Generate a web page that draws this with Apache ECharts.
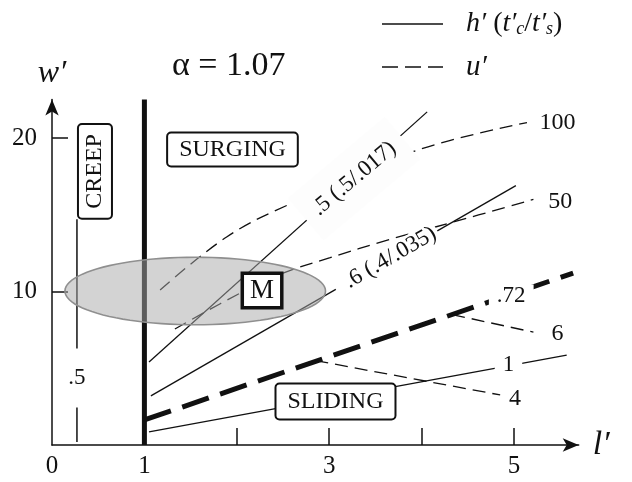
<!DOCTYPE html>
<html>
<head>
<meta charset="utf-8">
<script src="https://cdn.jsdelivr.net/npm/echarts@6/dist/echarts.min.js"></script>
<style>
  html, body { margin: 0; padding: 0; background: #ffffff; }
  #chart { width: 632px; height: 482px; }
</style>
</head>
<body>
<div id="chart"></div>
<script>
// Regime diagram in the (l′, w′) plane: lines of constant h′ (solid) and u′ (dashed)

// axis ticks and labels
const xTickValues = [1, 2, 3, 4, 5];
const xLabelValues = [0, 1, 3, 5];
const yTickValues = [10, 20];
const yLabelValues = [10, 20];

// lines of constant h′
const hLine05 = [[1.05, 5.4], [4.06, 21.7]];
const hLine06 = [[1.07, 3.2], [5.02, 16.9]];
const hLine1 = [[1.05, 0.85], [5.57, 5.86]];
// sliding boundary, h′ = .72
const boundary072 = [[1.0, 1.63], [5.64, 11.2]];
// lines of constant u′
const uLine100 = [[1.17, 10.1], [1.89, 13.55], [2.54, 15.6], [3.9, 19.1], [5.14, 21.0]];
const uLine50 = [[1.33, 7.56], [2.06, 9.97], [2.5, 11.2], [3.01, 12.2], [3.63, 13.35], [4.33, 14.5], [5.21, 16.0]];
const uLine6 = [[4.33, 8.5], [5.21, 7.35]];
const uLine4 = [[2.85, 5.5], [4.85, 3.26]];
// creep limit (h′ = .5) and the surge wall at l′ = 1
const creepLine = [[0.27, 0.2], [0.27, 14.7]];
const surgeWall = [[1, 0], [1, 22.5]];

// measured region M: centre and semi-axes in data units
const regionMCenter = [1.55, 10.03];
const regionMRadii = [1.41, 2.2];

// line labels: text and anchor (data units)
const lineLabelText = ['.5 (.5/.017)', '.6 (.4/.035)', '.72', '1', '100', '50', '6', '4', '.5'];
const lineLabelAt = [[3.27, 17.35], [3.62, 12.05], [4.97, 9.7], [4.94, 5.2], [5.47, 20.98], [5.5, 15.83], [5.47, 7.23], [5.01, 3.0], [0.27, 4.36]];

// regime names: text and anchor (data units)
const regimeText = ['SURGING', 'CREEP', 'M', 'SLIDING'];
const regimeAt = [[1.953, 19.25], [0.465, 17.82], [2.273, 10.07], [3.068, 2.83]];

const SERIF = "'Liberation Serif', 'Times New Roman', 'DejaVu Serif', serif";
const INK = '#111111';

function lineSeries(data, style, extra) {
  return Object.assign({
    type: 'line',
    data: data,
    symbol: 'none',
    silent: true,
    z: 2,
    lineStyle: Object.assign({ color: INK, width: 1.3, cap: 'butt' }, style)
  }, extra || {});
}

const thinDash = [13, 7];

// per-label styling
const lineLabelStyle = [
  { fontSize: 23, rotate: 40, backgroundColor: '#fdfdfd', padding: [16, 12] },
  { fontSize: 23, rotate: 30, backgroundColor: '#ffffff', padding: [0, 3, 0, 12] },
  { fontSize: 23, backgroundColor: '#ffffff', padding: [0, 8] },
  { fontSize: 23, backgroundColor: '#ffffff', padding: [2, 8] },
  { fontSize: 24 },
  { fontSize: 24 },
  { fontSize: 24 },
  { fontSize: 24 },
  { fontSize: 23, backgroundColor: '#ffffff', padding: [18, 4] }
];

const regimeStyle = [
  { fontSize: 24, padding: [5, 11, 3, 11], borderWidth: 2, borderRadius: 3 },
  { fontSize: 24, rotate: 90, padding: [4, 9, 4, 9], borderWidth: 2, borderRadius: 3 },
  { fontSize: 27, padding: [3, 6, 1, 6], borderWidth: 3.5, borderRadius: 0 },
  { fontSize: 24, padding: [6, 11, 4, 11], borderWidth: 2, borderRadius: 3 }
];

const plainText = {
  show: true, position: 'inside', color: INK, fontFamily: SERIF,
  align: 'center', verticalAlign: 'middle',
  textBorderWidth: 0, textBorderColor: 'transparent', textShadowBlur: 0, opacity: 1
};

const lineLabelData = lineLabelText.map((t, i) => ({
  value: lineLabelAt[i],
  label: Object.assign({ formatter: t }, plainText, lineLabelStyle[i])
}));

const regimeData = regimeText.map((t, i) => ({
  value: regimeAt[i],
  label: Object.assign({ formatter: t, backgroundColor: '#ffffff', borderColor: INK }, plainText, regimeStyle[i])
}));

const chart = echarts.init(document.getElementById('chart'), null, { renderer: 'canvas' });

chart.setOption({
  animation: false,
  backgroundColor: '#ffffff',
  title: {
    text: 'α = 1.07',
    left: 172, top: 49, padding: 0,
    textStyle: { fontFamily: SERIF, fontSize: 34, fontWeight: 'normal', color: INK }
  },
  grid: { left: 52, right: 53.3, top: 99.6, bottom: 37, containLabel: false },
  xAxis: {
    type: 'value', min: 0, max: 5.7,
    name: 'l′', nameLocation: 'end', nameGap: 14,
    nameTextStyle: { fontFamily: SERIF, fontStyle: 'italic', fontSize: 34, color: INK, verticalAlign: 'middle' },
    axisLine: { show: true, onZero: false, symbol: ['none', 'arrow'], symbolSize: [10, 16], lineStyle: { color: INK, width: 1.5 } },
    axisTick: { show: true, inside: true, length: 17, customValues: xTickValues, lineStyle: { color: INK, width: 1.5 } },
    axisLabel: { customValues: xLabelValues, margin: 9, fontFamily: SERIF, fontSize: 25, color: INK },
    splitLine: { show: false }
  },
  yAxis: {
    type: 'value', min: 0, max: 22.5,
    name: 'w′', nameLocation: 'end', nameGap: 10,
    nameTextStyle: { fontFamily: SERIF, fontStyle: 'italic', fontSize: 32, color: INK, align: 'center' },
    axisLine: { show: true, onZero: false, symbol: ['none', 'arrow'], symbolSize: [10, 16], lineStyle: { color: INK, width: 1.5 } },
    axisTick: { show: true, inside: true, length: 16, customValues: yTickValues, lineStyle: { color: INK, width: 1.5 } },
    axisLabel: { customValues: yLabelValues, margin: 15, fontFamily: SERIF, fontSize: 25, color: INK },
    splitLine: { show: false }
  },
  graphic: [
    { type: 'line', shape: { x1: 382, y1: 24, x2: 443, y2: 24 }, style: { stroke: INK, lineWidth: 1.5 } },
    { type: 'line', shape: { x1: 382, y1: 67, x2: 443, y2: 67 }, style: { stroke: INK, lineWidth: 1.5, lineDash: [16, 7] } },
    {
      type: 'text', x: 466, y: 24,
      style: {
        text: '{i|h′} ({i|t′}{s|c}/{i|t′}{s|s})',
        font: '28px ' + SERIF, fill: INK, verticalAlign: 'middle',
        rich: {
          i: { fontFamily: SERIF, fontStyle: 'italic', fontSize: 28 },
          s: { fontFamily: SERIF, fontStyle: 'italic', fontSize: 18, verticalAlign: 'bottom' }
        }
      }
    },
    {
      type: 'text', x: 466, y: 67,
      style: { text: 'u′', font: 'italic 29px ' + SERIF, fill: INK, verticalAlign: 'middle' }
    }
  ],
  series: [
    lineSeries(surgeWall, { width: 5 }, { clip: false }),
    lineSeries(creepLine, { width: 1.5 }),
    lineSeries(hLine05, {}),
    lineSeries(hLine06, {}),
    lineSeries(hLine1, {}),
    lineSeries(boundary072, { width: 5, type: [28, 12] }),
    lineSeries(uLine100, { type: thinDash }, { smooth: 0.4 }),
    lineSeries(uLine50, { type: thinDash }, { smooth: 0.4 }),
    lineSeries(uLine6, { type: thinDash }),
    lineSeries(uLine4, { type: thinDash }),
    {
      // shaded measurement region M
      type: 'custom',
      silent: true,
      z: 3,
      data: [regionMCenter],
      renderItem: function (params, api) {
        const pts = [];
        const n = 96;
        for (let k = 0; k < n; k++) {
          const t = (k / n) * Math.PI * 2;
          pts.push(api.coord([
            regionMCenter[0] + regionMRadii[0] * Math.cos(t),
            regionMCenter[1] + regionMRadii[1] * Math.sin(t)
          ]));
        }
        return {
          type: 'polygon',
          shape: { points: pts },
          style: { fill: 'rgba(168,168,168,0.5)', stroke: '#8f8f8f', lineWidth: 1.6 }
        };
      }
    },
    {
      type: 'scatter', silent: true, z: 5,
      symbol: 'circle', symbolSize: 1,
      itemStyle: { color: 'rgba(0,0,0,0)' },
      data: lineLabelData
    },
    {
      type: 'scatter', silent: true, z: 6,
      symbol: 'circle', symbolSize: 1,
      itemStyle: { color: 'rgba(0,0,0,0)' },
      data: regimeData
    }
  ]
});
</script>
</body>
</html>
